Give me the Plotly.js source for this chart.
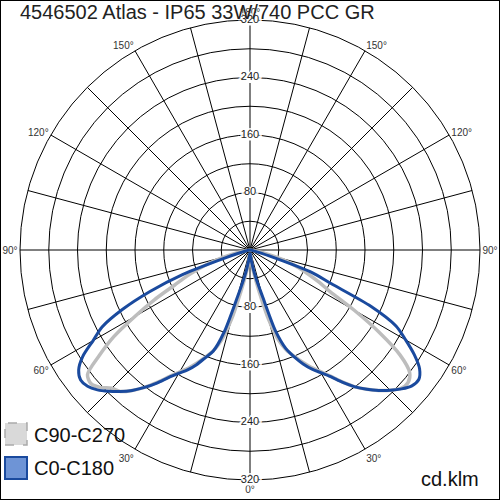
<!DOCTYPE html>
<html><head><meta charset="utf-8">
<script src="https://cdn.plot.ly/plotly-3.0.1.min.js"></script>
<style>
html,body{margin:0;padding:0;background:#fff}
#wrap{position:relative;width:500px;height:500px}
#chart{width:500px;height:500px}
#frame{position:absolute;left:0;top:0;width:500px;height:500px;box-sizing:border-box;border:1px solid #000;pointer-events:none}
</style>
</head><body><div id="wrap"><div id="chart"></div><div id="frame"></div></div>
<script>
// Angles from nadir (degrees)
const gamma = [0,2.5,5,7.5,10,12.5,15,17.5,20,22.5,25,27.5,30,32.5,35,37.5,40,42.5,45,47.5,50,52.5,55,57.5,60,62.5,65,67.5,70,72.5,75,77.5,80,85,90];
// C0-C180 plane (blue): right half C0, left half C180 (cd/klm)
const c0   = [4,5,9,16,28,44,66,118,146,161,175,187,197,209,225,240,253,265,276,286,294,296,288,271,250,229,186,122,92,32,10,5,3,1,0];
const c180 = [4,5,9,16,28,44,68,120,150,162,176,188,198,210,226,241,255,267,278,288,295,297,291,276,252,232,196,150,100,35,12,5,3,1,0];
// C90-C270 plane (grey): right half C90, left half C270
const c90  = [4,6,12,22,36,60,100,131,148,160,172,184,195,208,224,240,253,265,276,285,287,280,255,213,167,126,106,88,72,55,35,18,8,2,0];
const c270 = [4,6,12,22,36,60,100,131,149,161,173,185,196,209,225,241,255,267,272,283,289,285,256,225,185,150,116,95,75,55,35,18,8,2,0];

const seriesNames = ['C90-C270','C0-C180'];
const ringValues = [40,80,120,160,200,240,280,320];
const ringLabels = ['80','160','240','320'];
const ringLabelValues = [80,160,240,320];
const angleTicks = [];
for (let a = 0; a < 360; a += 15) angleTicks.push(a);
const angleLabels = angleTicks.map(a => a % 30 === 0 ? ((a <= 180 ? a : 360 - a) + '°') : '');
const titleText = '4546502 Atlas - IP65 33W/740 PCC GR';
const unitText = 'cd.klm';

function plane(left, right) {
  const th = gamma.slice().reverse().map(g => -g).concat(gamma);
  const r = left.slice().reverse().concat(right);
  return {theta: th, r: r};
}
const grey = plane(c270, c90);
const blue = plane(c180, c0);

const traces = [
  {type:'scatterpolar', mode:'lines', theta: grey.theta, r: grey.r, name: seriesNames[0],
   line:{color:'#bdbdbd', width:3.5, shape:'spline', smoothing:0.8}, showlegend:false, hoverinfo:'skip'},
  {type:'scatterpolar', mode:'lines', theta: blue.theta, r: blue.r, name: seriesNames[1],
   line:{color:'#1a4a9e', width:3, shape:'spline', smoothing:0.8}, showlegend:false, hoverinfo:'skip'},
  {type:'scatterpolar', mode:'markers+text', cliponaxis:false,
   theta: ringLabelValues.map(() => 0).concat(ringLabelValues.map(() => 180)),
   r: ringLabelValues.concat(ringLabelValues),
   text: ringLabels.concat(ringLabels),
   textposition:'middle center',
   marker:{symbol:'square', size:11, color:'#fff', line:{width:0}},
   textfont:{family:'Liberation Sans, Arial, sans-serif', size:11, color:'#222',
     shadow:'2px 0 0 #fff, -2px 0 0 #fff, 0 2px 0 #fff, 0 -2px 0 #fff, 3px 0 0 #fff, -3px 0 0 #fff'},
   showlegend:false, hoverinfo:'skip'}
];

const layout = {
  width:500, height:500,
  margin:{l:0,r:0,t:0,b:0},
  paper_bgcolor:'#fff',
  font:{family:'Liberation Sans, Arial, sans-serif', color:'#222'},
  title:{text:titleText, x:20/500, xanchor:'left', xref:'container', y:1-12/500, yanchor:'middle', yref:'container',
    font:{size:20, family:'Liberation Sans, Arial, sans-serif', color:'#222'}},
  showlegend:false,
  polar:{
    domain:{x:[0.04,0.96], y:[0.04,0.96]},
    bgcolor:'rgba(0,0,0,0)',
    radialaxis:{range:[0,320], tickvals:ringValues, showticklabels:false, ticks:'',
      gridcolor:'#000', gridwidth:1, showline:false, layer:'below traces'},
    angularaxis:{rotation:-90, direction:'counterclockwise', tickvals:angleTicks, ticktext:angleLabels,
      gridcolor:'#000', gridwidth:1, linecolor:'#000', linewidth:1, showline:true, ticks:'',
      tickfont:{size:10, color:'#333'}, layer:'below traces'}
  },
  shapes:[
    {type:'rect', xref:'paper', yref:'paper', x0:5/500, x1:27/500, y0:1-445/500, y1:1-423/500,
     fillcolor:'#d9d9d9', line:{color:'#aaaaaa', width:1.5, dash:'dash'}},
    {type:'rect', xref:'paper', yref:'paper', x0:5/500, x1:27/500, y0:1-479/500, y1:1-457/500,
     fillcolor:'#6e94d6', line:{color:'#1a4a9e', width:2}}
  ],
  annotations:[
    {text:seriesNames[0], xref:'paper', yref:'paper', x:32/500, y:1-435/500, xanchor:'left', yanchor:'middle', showarrow:false,
     font:{size:20, color:'#111'}},
    {text:seriesNames[1], xref:'paper', yref:'paper', x:32/500, y:1-468/500, xanchor:'left', yanchor:'middle', showarrow:false,
     font:{size:20, color:'#111'}},
    {text:unitText, xref:'paper', yref:'paper', x:481/500, y:1-479/500, xanchor:'right', yanchor:'middle', showarrow:false,
     font:{size:20, color:'#111'}}
  ]
};
Plotly.newPlot('chart', traces, layout, {displayModeBar:false, staticPlot:true});
</script>
</body></html>
